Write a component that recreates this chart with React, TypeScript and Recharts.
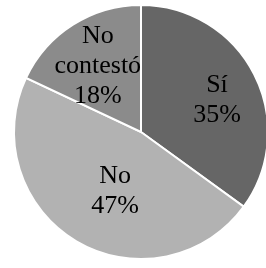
import React from "react";
import { PieChart, Pie, Cell } from "recharts";

const categories = ["Sí", "No", "No contestó"];
const values = [35, 47, 18];
const colors = ["#666666", "#b2b2b2", "#8b8b8b"];
// label distance from the centre, as a share of the radius
const labelRadius = [0.655, 0.49, 0.635];
// clockwise nudge of each label from its slice's mid angle, degrees
const labelShift = [3, -6, 0];

const chartData = categories.map((name, i) => ({ name, value: values[i] }));
const total = values.reduce((a, b) => a + b, 0);

const RAD = Math.PI / 180;
const FONT = "Liberation Serif";

const renderLabel = (props: any) => {
  const { cx, cy, midAngle, outerRadius, index, value } = props;
  const r = outerRadius * labelRadius[index];
  const a = midAngle - labelShift[index];
  const x = cx + r * Math.cos(-a * RAD);
  const y = cy + r * Math.sin(-a * RAD);
  const pct = `${Math.round((value / total) * 100)}%`;
  const words = categories[index].split(" ");
  const lines = words.length > 1 ? [...words, pct] : [categories[index], pct];
  const lh = 30;
  const top = y - ((lines.length - 1) * lh) / 2;
  return (
    <g key={index}>
      {lines.map((l, i) => (
        <text
          key={i}
          x={x}
          y={top + i * lh + 9}
          textAnchor="middle"
          fill="#000"
          fontFamily={FONT}
          fontSize={26}
        >
          {l}
        </text>
      ))}
    </g>
  );
};

export default function App() {
  return (
    <div
      style={{
        position: "fixed",
        left: 0,
        top: 0,
        width: 266,
        height: 268,
        background: "#fff",
        filter: "drop-shadow(-1px 2px 2px rgba(0,0,0,0.35))",
      }}
    >
      <PieChart width={266} height={268} margin={{ top: 0, right: 0, bottom: 0, left: 0 }}>
        <Pie
          data={chartData}
          dataKey="value"
          nameKey="name"
          cx={141}
          cy={132}
          outerRadius={127}
          startAngle={90}
          endAngle={-270}
          stroke="#ffffff"
          strokeWidth={2}
          labelLine={false}
          label={renderLabel}
          isAnimationActive={false}
        >
          {chartData.map((_, i) => (
            <Cell key={i} fill={colors[i]} />
          ))}
        </Pie>
      </PieChart>
    </div>
  );
}
